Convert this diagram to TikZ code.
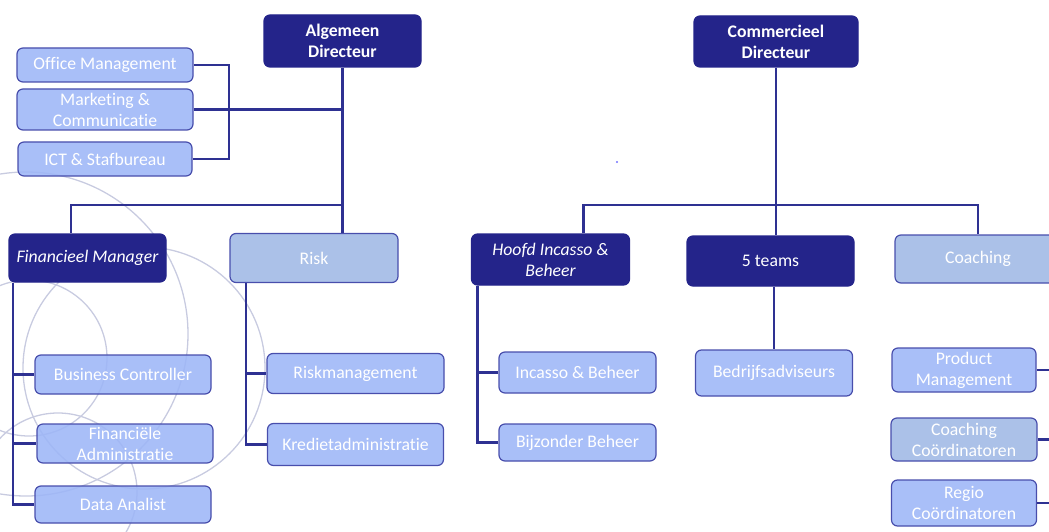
\documentclass[tikz,border=0pt]{standalone}
\usepackage{fontspec}
\setmainfont[Ligatures={NoCommon}]{Carlito}
\usetikzlibrary{positioning}
\definecolor{navy}{RGB}{36,36,138}
\definecolor{wire}{RGB}{46,49,146}
\definecolor{rim}{RGB}{72,78,172}
\definecolor{pale}{RGB}{157,182,247}
\definecolor{greyblue}{RGB}{164,188,230}
\definecolor{ringc}{RGB}{200,203,224}

\begin{document}
\begin{tikzpicture}[x=1pt, y=1pt, on grid,
    font=\fontsize{17.7}{21}\selectfont,
    box/.style={rectangle, rounded corners=6pt, align=center, inner sep=0pt,
                line width=1.2pt, text=white},
    boss/.style={box, fill=navy, draw=navy, font=\fontsize{17.7}{21}\selectfont\bfseries},
    head/.style={box, fill=navy, draw=navy},
    unit/.style={box, fill=pale, fill opacity=0.88, text opacity=1, draw=rim},
    unitgrey/.style={box, fill=greyblue, fill opacity=0.92, text opacity=1, draw=rim},
    link/.style={draw=wire, line width=2.2pt},
    ring/.style={draw=ringc, line width=1.3pt}]

   \useasboundingbox (0,0) rectangle (1049,-532);

   % background rings
   \draw[ring] (26,-334) circle (162);
   \draw[ring] (144,-368) circle (121);
   \draw[ring] (29,-358) circle (78);
   \draw[ring] (58,-492) circle (79);
   \fill[blue!55] (617,-162) circle (1.2);

   % directors
   \node[boss, minimum width=157pt, minimum height=52pt] (alg) at (342.5,-41) {Algemeen\\Directeur};
   \node[boss, minimum width=164pt, minimum height=51pt] (com) at (776,-41.5) {Commercieel\\Directeur};

   % staff
   \node[unit, minimum width=176pt, minimum height=34pt] (om) at (105,-65) {Office Management};
   \node[unit, minimum width=176pt, minimum height=41pt] (mc) [below=44.5 of om] {Marketing \&\\Communicatie};
   \node[unit, minimum width=174pt, minimum height=34pt] (ict) [below=49.5 of mc] {ICT \& Stafbureau};

   % left branch
   \node[head, minimum width=157pt, minimum height=48pt] (fm) at (87.5,-258) {\itshape Financieel Manager};
   \node[unitgrey, minimum width=168pt, minimum height=49pt] (risk) [right=226.5 of fm] {Risk};
   \node[unit, minimum width=176pt, minimum height=39pt] (bc) [below right=116.5 and 35.5 of fm] {Business Controller};
   \node[unit, minimum width=176pt, minimum height=39pt] (fa) [below right=69 and 2 of bc] {Financiële\\Administratie};
   \node[unit, minimum width=176pt, minimum height=37pt] (da) [below left=61 and 2 of fa] {Data Analist};
   \node[unit, minimum width=177pt, minimum height=40pt] (rm) [below right=115.5 and 41.5 of risk] {Riskmanagement};
   \node[unit, minimum width=176pt, minimum height=42pt] (ka) [below=71 of rm] {Kredietadministratie};

   % right branch
   \node[head, minimum width=158pt, minimum height=51pt] (hib) at (550.5,-259.5) {\itshape Hoofd Incasso \&\\\itshape Beheer};
   \node[head, minimum width=167pt, minimum height=50pt] (teams) at (770.5,-261) {5 teams};
   \node[unitgrey, minimum width=166pt, minimum height=48pt] (coach) at (978,-259) {Coaching};
   \node[unit, minimum width=157pt, minimum height=41pt] (ib) [below right=113 and 27 of hib] {Incasso \& Beheer};
   \node[unit, minimum width=157pt, minimum height=37pt] (bb) [below=70 of ib] {Bijzonder Beheer};
   \node[unit, minimum width=157pt, minimum height=46pt] (ba) [below right=112 and 3.5 of teams] {Bedrijfsadviseurs};
   \node[unit, minimum width=144pt, minimum height=44pt] (pm) [below left=111 and 14 of coach] {Product\\Management};
   \node[unitgrey, minimum width=146pt, minimum height=43pt] (cc) [below=69.5 of pm] {Coaching\\Coördinatoren};
   \node[unit, minimum width=145pt, minimum height=46pt] (rc) [below=63.5 of cc] {Regio\\Coördinatoren};

   % connectors
   \coordinate (sbus) at (229,-111);
   \coordinate (lbus) at (342.5,-205);
   \coordinate (rbus) at (776,-205);
   \coordinate (fmleg) at ([xshift=-74.5pt]fm.south);
   \coordinate (rkleg) at ([xshift=-68pt]risk.south);
   \coordinate (hbleg) at ([xshift=-73pt]hib.south);
   \coordinate (edge) at (1052,0);

   \draw[link] (om.east) -| (sbus) |- (ict.east);
   \draw[link] (mc.east) -- (mc.east -| alg.south);
   \draw[link] (alg.south) -- (alg.south |- risk.north);
   \draw[link] (lbus) -| ([xshift=-16.5pt]fm.north);
   \draw[link] (fmleg) |- (da.west);
   \draw[link] (fmleg |- bc.west) -- (bc.west);
   \draw[link] (fmleg |- fa.west) -- (fa.west);
   \draw[link] (rkleg) |- (ka.west);
   \draw[link] (rkleg |- rm.west) -- (rm.west);

   \draw[link] (com.south) -- (com.south |- teams.north);
   \draw[link] ([xshift=33pt]hib.north) |- (rbus) -| (coach.north);
   \draw[link] (hbleg) |- (bb.west);
   \draw[link] (hbleg |- ib.west) -- (ib.west);
   \draw[link] (teams.south -| ba.north) -- (ba.north);
   \draw[link] (pm.east) -- (pm.east -| edge);
   \draw[link] (cc.east) -- (cc.east -| edge);
   \draw[link] (rc.east) -- (rc.east -| edge);
\end{tikzpicture}
\end{document}
